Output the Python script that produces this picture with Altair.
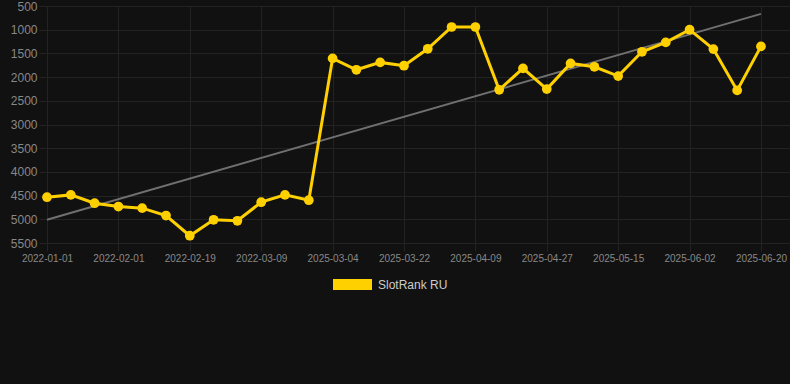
import altair as alt
import pandas as pd

# Rank values (one per point, left to right)
rank = [4534, 4485, 4660, 4731, 4765, 4920, 5347, 5010, 5031, 4639, 4485, 4597,
        1605, 1846, 1690, 1760, 1403, 943, 943, 2268, 1816, 2253, 1711, 1782,
        1979, 1466, 1268, 1000, 1409, 2281, 1352]
idx = list(range(len(rank)))
tick_labels = ["2022-01-01", "2022-02-01", "2022-02-19", "2022-03-09", "2025-03-04",
               "2025-03-22", "2025-04-09", "2025-04-27", "2025-05-15", "2025-06-02",
               "2025-06-20"]
series_name = "SlotRank RU"

df = pd.DataFrame({"idx": idx, "rank": rank, "series": series_name})

GOLD = "#FFD000"
GRID = "#232323"
label_arr = "[" + ",".join("'%s'" % t for t in tick_labels) + "]"

x = alt.X("idx:Q",
          scale=alt.Scale(domain=[0, 31.22], nice=False, zero=False),
          axis=alt.Axis(values=[i * 3 for i in range(len(tick_labels))],
                        labelExpr=label_arr + "[round(datum.value/3)]",
                        title=None, grid=True, gridColor=GRID, domain=False,
                        tickColor=GRID, tickSize=8, labelPadding=2,
                        labelColor="#888888", labelFontSize=10,
                        labelFont="Liberation Sans", labelFlush=False))
y = alt.Y("rank:Q",
          scale=alt.Scale(domain=[500, 5500], reverse=True, nice=False, zero=False),
          axis=alt.Axis(values=list(range(500, 5501, 500)), title=None, format="d",
                        grid=True, gridColor=GRID, domain=False,
                        tickColor=GRID, tickSize=8, labelPadding=2,
                        labelColor="#888888", labelFontSize=12,
                        labelFont="Liberation Sans"))

base = alt.Chart(df)

trend = base.transform_regression("idx", "rank").mark_line(
    color="#707070", strokeWidth=2).encode(x=x, y=y)

line = base.mark_line(color=GOLD, strokeWidth=3).encode(x=x, y=y)

pts = base.mark_circle(size=95, opacity=1).encode(
    x=x, y=y,
    color=alt.Color("series:N",
                    scale=alt.Scale(domain=[series_name], range=[GOLD]),
                    legend=alt.Legend(title=None, orient="none",
                                      legendX=286, legendY=259,
                                      symbolType="M-1,-0.28L1,-0.28L1,0.28L-1,0.28Z",
                                      symbolSize=1521, symbolStrokeWidth=0,
                                      labelColor="#cccccc", labelFontSize=12,
                                      labelFont="Liberation Sans", labelOffset=6,
                                      padding=0)))

chart = alt.layer(trend, line, pts).properties(
    width=743, height=237,
    padding={"left": 47, "top": 6, "right": 0, "bottom": 141},
    autosize=alt.AutoSizeParams(type="none"),
    background="#111111",
).configure_view(stroke=None)

chart.save("out.html", embed_options={"renderer": "svg", "actions": False})
